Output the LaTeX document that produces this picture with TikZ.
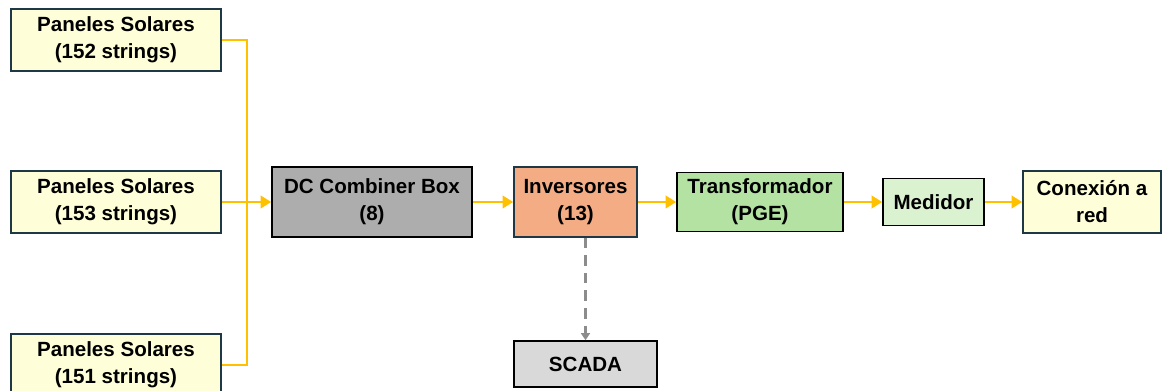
\documentclass[tikz,border=0pt]{standalone}
\usepackage{fontspec}
\setmainfont{Liberation Sans}
\usepackage{xcolor}
\usetikzlibrary{arrows.meta}

\definecolor{panelfill}{HTML}{FEFED8}
\definecolor{slateline}{HTML}{1E3845}
\definecolor{combgray}{HTML}{ADADAD}
\definecolor{invsalmon}{HTML}{F4AC84}
\definecolor{trafogreen}{HTML}{B3E2A3}
\definecolor{medgreen}{HTML}{DAF2D0}
\definecolor{scadagray}{HTML}{D9D9D9}
\definecolor{flowgold}{HTML}{FFC000}
\definecolor{dashgray}{HTML}{8C8C8C}

\tikzset{
  block/.style={draw, line width=0.9pt, align=center, inner sep=0pt,
    font=\fontsize{11.7}{15.3}\selectfont\bfseries},
  flow/.style={draw=flowgold, line width=1.6pt, -{Triangle[length=6pt,width=7pt]}},
  link/.style={draw=flowgold, line width=1.6pt},
  monitor/.style={draw=dashgray, line width=1.5pt, dash pattern=on 6pt off 4pt,
    -{Triangle[length=4pt,width=5pt]}}
}

\begin{document}
\begin{tikzpicture}[x=0.02cm, y=-0.02cm]

    \useasboundingbox (0,0) rectangle (1162,391);

    % ==========================================
    % Strings de paneles
    % ==========================================
    \node[block, fill=panelfill, draw=slateline, minimum width=210*0.02cm, minimum height=62*0.02cm]
        (pan1) at (116,40) {Paneles Solares\\(152 strings)};
    \node[block, fill=panelfill, draw=slateline, minimum width=210*0.02cm, minimum height=62*0.02cm]
        (pan2) at (116,202) {Paneles Solares\\(153 strings)};
    \node[block, fill=panelfill, draw=slateline, minimum width=210*0.02cm, minimum height=62*0.02cm]
        (pan3) at (116,365) {Paneles Solares\\(151 strings)};

    % ==========================================
    % Cadena de conversion
    % ==========================================
    \node[block, fill=combgray, draw=black, minimum width=200*0.02cm, minimum height=70*0.02cm]
        (comb) at (372,202) {DC Combiner Box\\(8)};
    \node[block, fill=invsalmon, draw=slateline, minimum width=123*0.02cm, minimum height=70*0.02cm]
        (inv) at (575.5,202) {Inversores\\(13)};
    \node[block, fill=trafogreen, draw=black, minimum width=166*0.02cm, minimum height=59*0.02cm]
        (trafo) at (760,202) {Transformador\\(PGE)};
    \node[block, fill=medgreen, draw=black, minimum width=101*0.02cm, minimum height=47*0.02cm]
        (med) at (933.5,202) {Medidor};
    \node[block, fill=panelfill, draw=slateline, minimum width=138*0.02cm, minimum height=62*0.02cm]
        (red) at (1092,202) {Conexión a\\red};
    \node[block, fill=scadagray, draw=black, minimum width=143*0.02cm, minimum height=46*0.02cm]
        (scada) at (585.5,364) {SCADA};

    % ==========================================
    % Conexiones
    % ==========================================
    \coordinate (bus) at (247,202);
    \draw[link] (pan1.east) -| (bus);
    \draw[link] (pan3.east) -| (bus);
    \draw[flow] (pan2.east) -- (comb.west);
    \draw[flow] (comb) -- (inv);
    \draw[flow] (inv) -- (trafo);
    \draw[flow] (trafo) -- (med);
    \draw[flow] (med) -- (red);
    \draw[monitor] (inv.south -| scada.north) -- (scada.north);

\end{tikzpicture}
\end{document}
